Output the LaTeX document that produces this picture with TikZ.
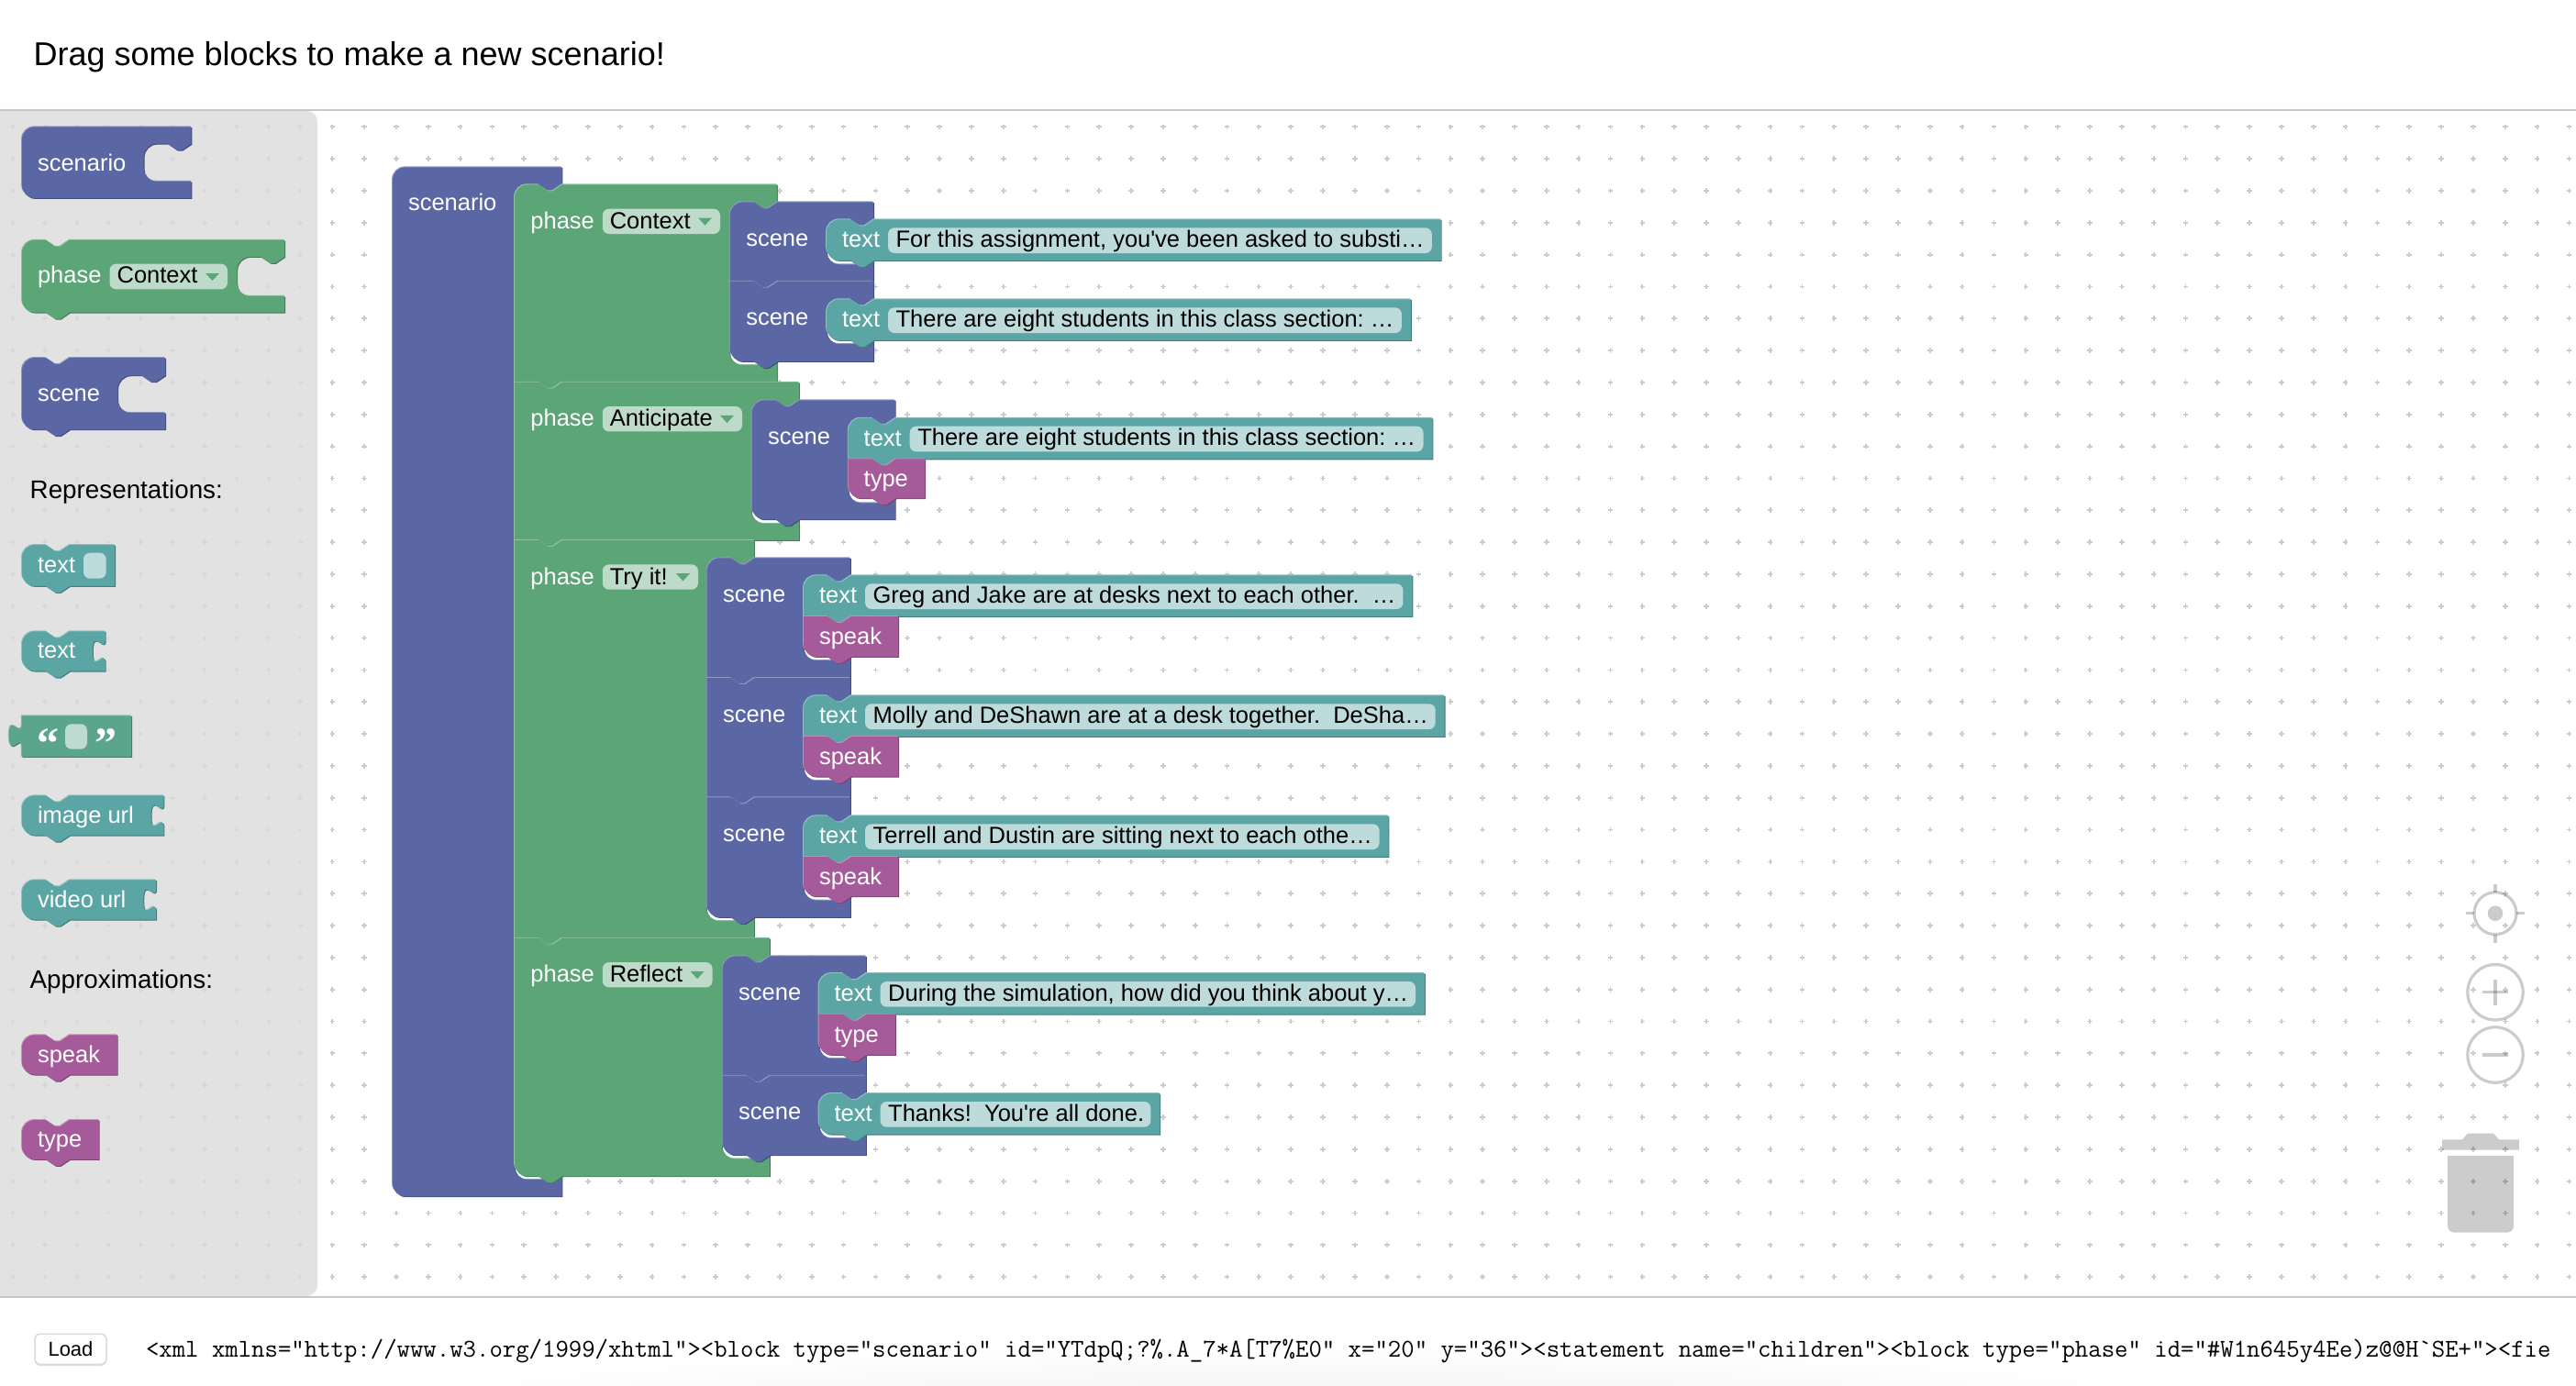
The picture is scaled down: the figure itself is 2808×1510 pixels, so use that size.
\documentclass[tikz,border=0pt]{standalone}
\usepackage{fontspec}
\newfontfamily\uifont{Liberation Sans}
\newfontfamily\quotefont{Liberation Serif}
\definecolor{scnblue}{HTML}{5B67A5}
\definecolor{phgreen}{HTML}{5CA577}
\definecolor{txteal}{HTML}{5BA5A5}
\definecolor{qgreen}{HTML}{5BA58C}
\definecolor{appurple}{HTML}{A55B99}
\definecolor{griddot}{HTML}{CCCCCC}
\newcount\nodecnt
\newcommand\putlabel[4]{\global\advance\nodecnt by 1 \node[#1] (n\the\nodecnt) at (#2,#3) {\frenchspacing #4};}
\def\NRt{-- ++(10.4,7) -- ++(5.2,0) -- ++(10.4,-7)}
\def\NLt{-- ++(-10.4,7) -- ++(-5.2,0) -- ++(-10.4,-7)}
\def\SLOTp{.. controls +(0,17.4) and +(0,-26.9) .. ++(-13.9,13) .. controls +(0,26.9) and +(0,-17.35) .. ++(13.9,13)}
\def\gapv{4}
\newcommand\setcorners[4]{%
 \ifodd#1 \def\TLc{(#2,#3+14) .. controls +(0,-7.7) and +(-7.7,0) .. (#2+14,#3)}\else\def\TLc{(#2,#3)}\fi
 \ifnum#1>1 \def\BLc{-- (#2+14,#4) .. controls +(-7.7,0) and +(0,7.7) .. (#2,#4-14) -- cycle}\else\def\BLc{-- (#2,#4) -- cycle}\fi}
\newcommand\tribk[1]{%
 \fill[#1!72!black,shift={(0.9,0.9)}] \BKP;
 \fill[#1!68!white,shift={(-0.9,-0.9)}] \BKP;
 \fill[#1] \BKP;}
% colour x y1 xr xi yi1 yi2 y2 flag
\newcommand\stmtbk[9]{\setcorners{#9}{#2}{#3}{#8}%
 \def\BKP{\TLc -- (#2+26,#3) \NRt -- (#4,#3) -- (#4,#6) -- (#5+52,#6) \NLt -- (#5+14,#6) .. controls +(-7.7,0) and +(0,-7.7) .. (#5,#6+14) -- (#5,#7-14) .. controls +(0,7.7) and +(-7.7,0) .. (#5+14,#7) -- (#5+39,#7) -- (#5+39,#7-\gapv) -- (#4,#7-\gapv) -- (#4,#8) -- (#2+52,#8) \NLt \BLc}%
 \tribk{#1}}
% x y1 xr xi yi1 yi2 y2
\newcommand\scenbk[7]{\setcorners{3}{#1}{#2}{#7}%
 \def\BKP{\TLc -- (#3,#2) -- (#3,#5) -- (#4+52,#5) \NLt -- (#4+14,#5) .. controls +(-7.7,0) and +(0,-7.7) .. (#4,#5+14) -- (#4,#6-14) .. controls +(0,7.7) and +(-7.7,0) .. (#4+14,#6) -- (#4+39,#6) -- (#4+39,#6-\gapv) -- (#3,#6-\gapv) -- (#3,#7) \BLc}%
 \tribk{scnblue}}
% colour x y1 xr y2 flag
\newcommand\valbk[6]{\setcorners{#6}{#2}{#3}{#5}%
 \def\BKP{\TLc -- (#2+26,#3) \NRt -- (#4,#3) -- (#4,#5) -- (#2+52,#5) \NLt \BLc}%
 \tribk{#1}}
% colour x y1 xr y2
\newcommand\slotbk[5]{\setcorners{3}{#2}{#3}{#5}%
 \def\BKP{\TLc -- (#2+26,#3) \NRt -- (#4,#3) -- ++(0,8.7) \SLOTp -- (#4,#5) -- (#2+52,#5) \NLt \BLc}%
 \tribk{#1}}
\newcommand\fieldbox[5]{\fill[#1!40!white,rounded corners=7pt] (#2,#3) rectangle (#4,#5);}
% x y xr flag text
\newcommand\textbk[5]{\valbk{txteal}{#1}{#2}{#3}{#2+44.7}{#4}%
 \putlabel{wlbl}{#1+17}{#2+30.6}{text}%
 \fieldbox{txteal}{#1+67}{#2+9}{#3-10}{#2+36.7}%
 \putlabel{blbl}{#1+75.6}{#2+30.2}{#5}}
\newcommand\purpbk[5]{\valbk{appurple}{#1}{#2}{#3}{#4}{2}\putlabel{wlbl}{#1+17}{#2+30.4}{#5}}
\newcommand\scenebk[9]{\stmtbk{scnblue}{#1}{#2}{#1+156.3}{#1+105.2}{#3}{#4}{#5}{#6}\putlabel{wlbl}{#1+17.5}{#2+48}{scene}}
\newcommand\phasebk[9]{\stmtbk{phgreen}{561}{#1}{#2}{#2-52}{#3}{#4}{#5}{#6}%
 \putlabel{wlbl}{578.4}{#1+48.2}{phase}%
 \fieldbox{phgreen}{656.8}{#1+26.4}{#7}{#1+53.7}%
 \putlabel{blbl}{664.8}{#1+48}{#8}%
 \fill[phgreen] (#7-24,#1+36.2) -- (#7-9,#1+36.2) -- (#7-16.5,#1+44.4) -- cycle;}
\tikzset{
 wlbl/.style={font=\uifont\fontsize{25.5}{30}\selectfont,text=white,inner sep=0pt,outer sep=0pt,anchor=base west},
 blbl/.style={font=\uifont\fontsize{25.5}{30}\selectfont,text=black,inner sep=0pt,outer sep=0pt,anchor=base west},
 headlbl/.style={font=\uifont\fontsize{36}{42}\selectfont,text=black,inner sep=0pt,outer sep=0pt,anchor=base west},
 sidelbl/.style={font=\uifont\fontsize{27.8}{32}\selectfont,text=black,inner sep=0pt,outer sep=0pt,anchor=base west},
 quotelbl/.style={font=\quotefont\bfseries\fontsize{48}{50}\selectfont,text=white,inner sep=0pt,outer sep=0pt,anchor=base west},
 xmllbl/.style={font=\ttfamily\fontsize{27.97}{30}\selectfont,text=black,inner sep=0pt,outer sep=0pt,anchor=base west},
 loadbtn/.style={font=\uifont\fontsize{22}{26}\selectfont,text=black,fill=white,draw=black!15,line width=1.5pt,rounded corners=6pt,minimum width=78pt,minimum height=33pt,inner sep=0pt,anchor=center},
 griddash/.style={griddot,line width=1.8pt,dash pattern=on 5.6pt off 29.23pt},
 ctrlline/.style={draw=black,opacity=.2,line width=3.2pt},
 ctrlfill/.style={fill=black,opacity=.2},
 rulegray/.style={draw=black!22,line width=2pt}
}
\begin{document}
\begin{tikzpicture}[x=1pt,y=-1pt]
\useasboundingbox (0,0) rectangle (2808,1510);
\fill[white] (0,0) rectangle (2808,1510);
% bottom faint shadow
\begin{scope}
\clip (0,1440) rectangle (2808,1510);
\shade[inner color=black!7,outer color=white] (1415,1560) ellipse (1130 and 95);
\end{scope}
% grid
\foreach \r in {0,...,36}{\pgfmathsetmacro\yy{138.3+34.83*\r}\draw[griddash] (11.2,\yy) -- (2808,\yy);}
\foreach \c in {0,...,80}{\pgfmathsetmacro\xx{14+34.83*\c}\draw[griddash] (\xx,135.5) -- (\xx,1396);}
% palette
\fill[black!14,opacity=.8] (0,121) -- (334,121) .. controls +(7,0) and +(0,-7) .. (346,133) -- (346,1401) .. controls +(0,7) and +(7,0) .. (334,1413) -- (0,1413) -- cycle;
\draw[rulegray] (0,120) -- (2808,120);
\draw[rulegray] (0,1413.5) -- (2808,1413.5);
% head
\putlabel{headlbl}{36.6}{71.7}{Drag some blocks to make a new scenario!}
% palette blocks
\def\gapv{0}
\scenbk{24}{138.3}{208.4}{156.7}{156.7}{197.7}{216}
\putlabel{wlbl}{41}{186.2}{scenario}
\stmtbk{phgreen}{24}{261.7}{310.2}{258.3}{280}{322.7}{340.7}{3}
\putlabel{wlbl}{41}{308.4}{phase}
\fieldbox{phgreen}{119.5}{287.7}{248}{315.3}
\putlabel{blbl}{127.6}{308.6}{Context}
\fill[phgreen] (224,298) -- (239,298) -- (231.5,306) -- cycle;
\stmtbk{scnblue}{24}{390}{180.2}{128.3}{409.3}{450}{468.3}{3}
\putlabel{wlbl}{41}{437.8}{scene}
\putlabel{sidelbl}{32.7}{543.6}{Representations:}
\valbk{txteal}{24}{594}{125.2}{639}{3}
\putlabel{wlbl}{41}{624.4}{text}
\fieldbox{txteal}{91}{602.7}{115.7}{630.7}
\slotbk{txteal}{24}{688.3}{114.8}{731.7}
\putlabel{wlbl}{41}{717.8}{text}
\def\BKP{(23.7,780.3) -- (23.7,789) \SLOTp -- (23.7,825) -- (143.2,825) -- (143.2,780.3) -- cycle}
\tribk{qgreen}
\fieldbox{qgreen}{71}{789.3}{95}{816.7}
\putlabel{quotelbl}{40}{826}{“}
\putlabel{quotelbl}{103}{826}{”}
\slotbk{txteal}{24}{867.3}{178.5}{910.7}
\putlabel{wlbl}{41}{897.8}{image url}
\slotbk{txteal}{24}{959.3}{170.2}{1002.7}
\putlabel{wlbl}{41}{989.8}{video url}
\putlabel{sidelbl}{32.7}{1077.3}{Approximations:}
\valbk{appurple}{24}{1128.3}{127.8}{1171.7}{3}
\putlabel{wlbl}{41}{1158.6}{speak}
\valbk{appurple}{24}{1221}{107.8}{1264}{3}
\putlabel{wlbl}{41}{1250.8}{type}
% workspace
\def\gapv{4}
\scenbk{428}{182.3}{612.5}{561}{201.3}{1286}{1304.3}
\putlabel{wlbl}{445}{229.8}{scenario}
% Context
\phasebk{201.3}{847.3}{220.3}{398}{416.7}{1}{785}{Context}{}
\scenebk{795.8}{220.3}{239.3}{288.3}{306.7}{1}{}{}{}
\textbk{901}{239.3}{1570.8}{3}{For this assignment, you've been asked to substi…}
\scenebk{795.8}{306.7}{326.3}{375}{394}{2}{}{}{}
\textbk{901}{326.3}{1537.9}{3}{There are eight students in this class section: …}
% Anticipate
\phasebk{416.7}{871}{436.3}{570.7}{589}{0}{809}{Anticipate}{}
\scenebk{819.5}{436.3}{455.7}{548.3}{566.3}{3}{}{}{}
\textbk{924.7}{455.7}{1561.5}{1}{There are eight students in this class section: …}
\purpbk{924.7}{500.4}{1008.1}{543.3}{type}
% Try it
\phasebk{589}{822}{608.3}{1004}{1022.7}{0}{761}{Try it!}{}
\scenebk{770.7}{608.3}{627.3}{720}{739}{1}{}{}{}
\textbk{876}{627.3}{1539.4}{1}{Greg and Jake are at desks next to each other.\ \ …}
\purpbk{876}{672}{979.1}{716}{speak}
\scenebk{770.7}{739}{758.3}{851}{869.3}{0}{}{}{}
\textbk{876}{758.3}{1574.7}{1}{Molly and DeShawn are at a desk together.\ \ DeSha…}
\purpbk{876}{803}{979.1}{846.7}{speak}
\scenebk{770.7}{869.3}{889.3}{981.5}{1000}{2}{}{}{}
\textbk{876}{889.3}{1513.5}{1}{Terrell and Dustin are sitting next to each othe…}
\purpbk{876}{934}{979.1}{977.3}{speak}
% Reflect
\phasebk{1022.7}{838.9}{1042.3}{1263.3}{1282.3}{2}{776.6}{Reflect}{}
\scenebk{787.7}{1042.3}{1061}{1154}{1172.7}{1}{}{}{}
\textbk{892.6}{1061}{1553}{1}{During the simulation, how did you think about y…}
\purpbk{892.6}{1105.7}{975.9}{1150}{type}
\scenebk{787.7}{1172.7}{1192}{1241}{1259.3}{2}{}{}{}
\textbk{892.6}{1192}{1264.3}{3}{Thanks!\ \ You're all done.}
% controls
\draw[ctrlline] (2720,995.7) circle (23);
\fill[ctrlfill] (2720,995.7) circle (8.3);
\draw[ctrlline] (2720,964) -- (2720,973);
\draw[ctrlline] (2720,1018.5) -- (2720,1027.5);
\draw[ctrlline] (2688,995.7) -- (2697,995.7);
\draw[ctrlline] (2743,995.7) -- (2752,995.7);
\draw[ctrlline] (2720,1081.7) circle (30.2);
\draw[ctrlline] (2706,1081.7) -- (2734,1081.7);
\draw[ctrlline] (2720,1067.7) -- (2720,1095.7);
\draw[ctrlline] (2720,1150) circle (30.2);
\draw[ctrlline] (2706,1150) -- (2734,1150);
\fill[ctrlfill] (2668,1260) -- (2740,1260) -- (2740,1335.7) .. controls +(0,5) and +(5,0) .. (2732,1343.7) -- (2676,1343.7) .. controls +(-5,0) and +(0,5) .. (2668,1335.7) -- cycle;
\fill[ctrlfill] (2662,1242.3) -- (2684,1242.3) -- (2690,1235.7) -- (2718,1235.7) -- (2724,1242.3) -- (2746,1242.3) -- (2746,1253.7) -- (2662,1253.7) -- cycle;
% bottom bar
\fill[black!12,rounded corners=6pt] (38,1456) rectangle (116,1489);
\node[loadbtn] (loadbutton) at (77,1470.8) {Load};
\putlabel{xmllbl}{159}{1479.3}{<xml xmlns="http://www.w3.org/1999/xhtml"><block type="scenario" id="YTdpQ;?\%.A\_7*A[T7\%E0" x="20" y="36"><statement name="children"><block type="phase" id="\#W1n645y4Ee)z@@H`SE+"><fie}
\end{tikzpicture}
\end{document}
